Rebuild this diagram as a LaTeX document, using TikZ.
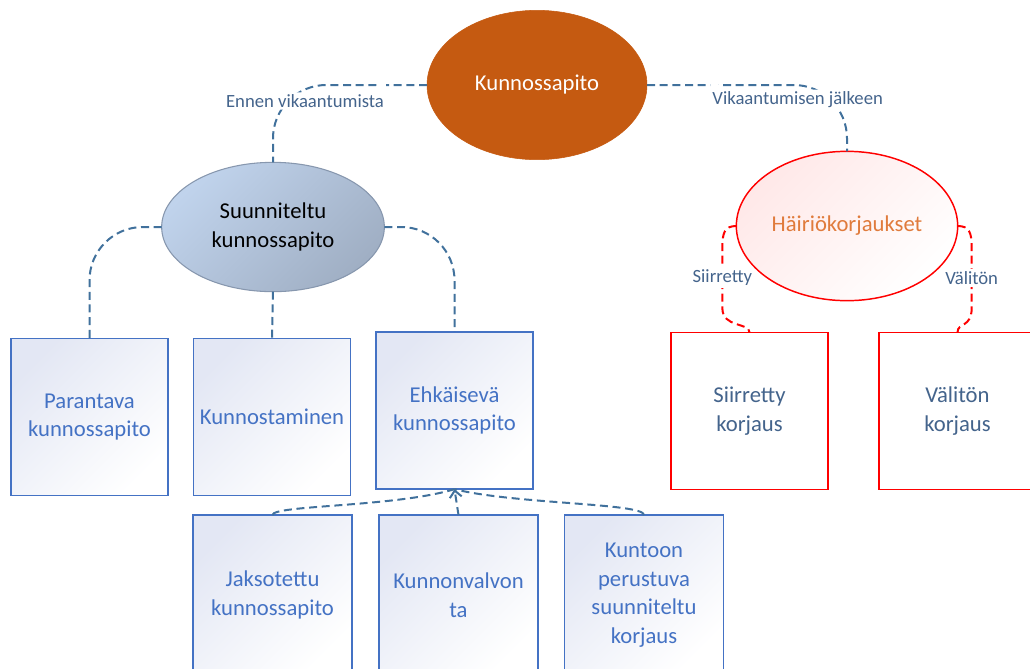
\documentclass[tikz,border=0pt]{standalone}
\usepackage{fontspec}
\setmainfont{Carlito}
\usetikzlibrary{shapes.geometric,arrows.meta}
\definecolor{rust}{HTML}{C55A11}
\definecolor{boxblue}{HTML}{4472C4}
\definecolor{boxtint}{HTML}{E3E7F4}
\definecolor{steeltop}{HTML}{C0D3EC}
\definecolor{steelbot}{HTML}{A0AFC4}
\definecolor{steelline}{HTML}{8797AE}
\definecolor{linkblue}{HTML}{41719C}
\definecolor{labelblue}{HTML}{44648C}
\definecolor{faultorange}{HTML}{E07B3C}
\tikzset{
  big/.style={font=\fontsize{17}{21.5}\selectfont},
  topell/.style={ellipse, fill=rust, draw=rust, text=white, big,
    minimum width=165pt, minimum height=112pt, inner sep=0pt, outer sep=0pt},
  planell/.style={ellipse, draw=steelline, line width=0.8pt,
    top color=steeltop, bottom color=steelbot, shading angle=45, big, align=center,
    minimum width=167pt, minimum height=97pt, inner sep=0pt, outer sep=0pt},
  faultell/.style={ellipse, draw=red, line width=1.1pt, top color=red!9,
    bottom color=white, shading angle=45, text=faultorange, big,
    minimum width=166pt, minimum height=112pt, inner sep=0pt, outer sep=0pt},
  taskbox/.style={rectangle, draw=boxblue, line width=1.1pt, top color=boxtint,
    bottom color=white, shading angle=45, text=boxblue, big, align=center,
    minimum width=118pt, minimum height=118pt, inner sep=0pt, outer sep=0pt},
  tallbox/.style={taskbox, minimum width=119pt, minimum height=120pt},
  repairbox/.style={rectangle, draw=red, line width=1.1pt, fill=white,
    text=labelblue, big, align=center,
    minimum width=118pt, minimum height=118pt, inner sep=0pt, outer sep=0pt},
  link/.style={draw=linkblue, line width=1.5pt, dash pattern=on 6pt off 3.5pt},
  redlink/.style={draw=red, line width=1.5pt, dash pattern=on 6pt off 3.5pt},
  linklabel/.style={fill=white, text=labelblue, inner sep=1.5pt,
    font=\fontsize{14}{16}\selectfont}
}
\begin{document}
\begin{tikzpicture}[x=0.75pt, y=-0.75pt]
  \useasboundingbox (0,0) rectangle (1030,668);
  \clip (0,0) rectangle (1030,668);

  \node [topell] (top) at (537, 85) {Kunnossapito};
  \node [planell] (plan) at (273, 227) {Suunniteltu\\kunnossapito};
  \node [faultell] (fault) at (847, 226) {Häiriökorjaukset};

  \node [taskbox] (cure) at (89.5, 417) {Parantava\\kunnossapito};
  \node [taskbox] (restore) at (272, 417) {Kunnostaminen};
  \node [taskbox] (prevent) at (454.5, 410.5) {Ehkäisevä\\kunnossapito};

  \node [tallbox] (periodic) at (272.5, 595) {Jaksotettu\\kunnossapito};
  \node [tallbox] (monitor) at (458.5, 595) {Kunnonvalvon\\ta};
  \node [tallbox] (condition) at (644, 595) {Kuntoon\\perustuva\\suunniteltu\\korjaus};

  \node [repairbox] (deferred) at (749.5, 411) {Siirretty\\korjaus};
  \node [repairbox] (immediate) at (957.5, 411) {Välitön\\korjaus};

  \draw [link, rounded corners=40pt] (top.west) -| (plan.north)
    node [linklabel, pos=0.5, xshift=24pt, yshift=-12pt] {Ennen vikaantumista};
  \draw [link, rounded corners=40pt] (top.east) -| (fault.north)
    node [linklabel, pos=0.5, xshift=-37pt, yshift=-11pt] {Vikaantumisen jälkeen};

  \draw [link, rounded corners=40pt] (plan.west) -| (cure.north);
  \draw [link] (plan.south) -- (restore.north);
  \draw [link, rounded corners=40pt] (plan.east) -| (prevent.north);

  \draw [link] (periodic.north) .. controls +(0,-10) and +(-60,18) .. (prevent.south);
  \draw [link] (condition.north) .. controls +(0,-12) and +(60,15) .. (prevent.south);
  \draw [link, -{Straight Barb[length=5pt, width=9pt]}] (monitor.north) -- (prevent.south);

  \draw [redlink] (fault.west) .. controls +(-12,0) and +(0,-15) .. ++(-14,22)
    -- ++(0,60) node [linklabel, midway] {Siirretty}
    .. controls +(0,20) and +(0,-10) .. (deferred.north);
  \draw [redlink] (fault.east) .. controls +(12,0) and +(0,-15) .. ++(14,22)
    -- ++(0,60) node [linklabel, midway] {Välitön}
    .. controls +(0,20) and +(0,-10) .. (immediate.north);
\end{tikzpicture}
\end{document}
